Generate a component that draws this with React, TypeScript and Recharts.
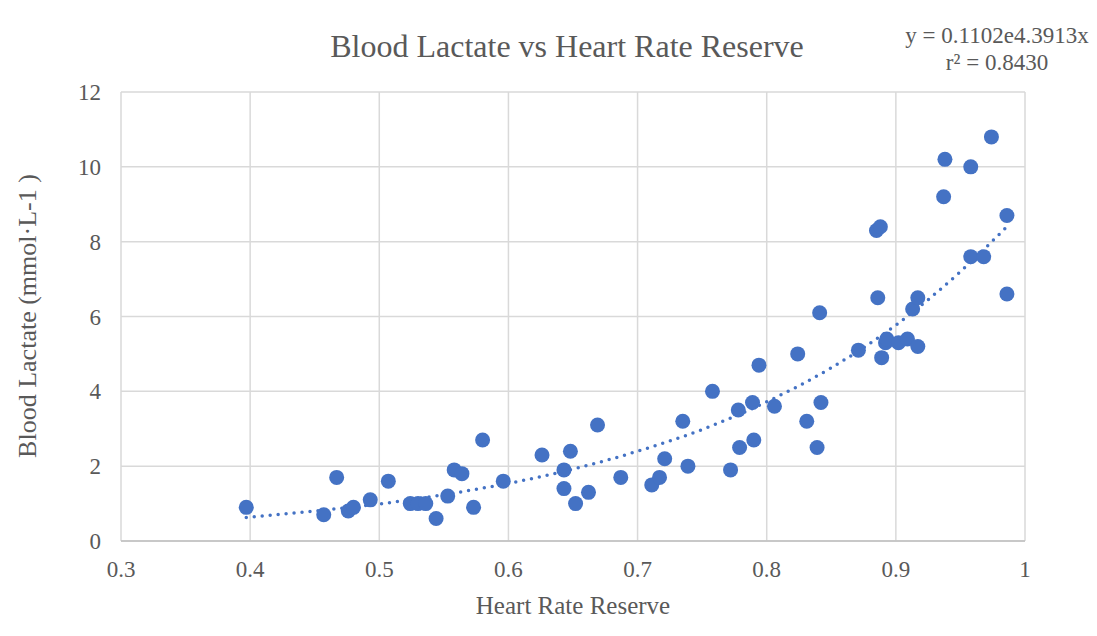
import React from 'react';
import { ComposedChart, Scatter, Line, XAxis, YAxis, CartesianGrid } from 'recharts';

// heart rate reserve (fraction) vs blood lactate (mmol/L)
const hrr = [
  0.397, 0.457, 0.467, 0.476, 0.48, 0.493, 0.507, 0.524, 0.53, 0.536,
  0.544, 0.553, 0.558, 0.564, 0.573, 0.58, 0.596, 0.626, 0.643, 0.643,
  0.648, 0.652, 0.662, 0.669, 0.687, 0.711, 0.717, 0.721, 0.735, 0.739,
  0.758, 0.772, 0.778, 0.779, 0.789, 0.79, 0.794, 0.806, 0.824, 0.831,
  0.839, 0.841, 0.842, 0.871, 0.885, 0.886, 0.888, 0.889, 0.892, 0.893,
  0.902, 0.909, 0.913, 0.917, 0.917, 0.937, 0.938, 0.958, 0.958, 0.968,
  0.974, 0.986, 0.986,
];
const lactate = [
  0.9, 0.7, 1.7, 0.8, 0.9, 1.1, 1.6, 1.0, 1.0, 1.0,
  0.6, 1.2, 1.9, 1.8, 0.9, 2.7, 1.6, 2.3, 1.9, 1.4,
  2.4, 1.0, 1.3, 3.1, 1.7, 1.5, 1.7, 2.2, 3.2, 2.0,
  4.0, 1.9, 3.5, 2.5, 3.7, 2.7, 4.7, 3.6, 5.0, 3.2,
  2.5, 6.1, 3.7, 5.1, 8.3, 6.5, 8.4, 4.9, 5.3, 5.4,
  5.3, 5.4, 6.2, 6.5, 5.2, 9.2, 10.2, 10.0, 7.6, 7.6,
  10.8, 8.7, 6.6,
];

// exponential trendline as it appears on the chart
const trendX = [0.397, 0.45, 0.5, 0.55, 0.6, 0.65, 0.7, 0.75, 0.8, 0.85, 0.9, 0.95, 0.986];
const trendY = [0.63, 0.8, 0.99, 1.24, 1.54, 1.92, 2.4, 2.98, 3.72, 4.63, 5.77, 7.2, 8.4];

const xTicks = [0.3, 0.4, 0.5, 0.6, 0.7, 0.8, 0.9, 1];
const yTicks = [0, 2, 4, 6, 8, 10, 12];

const points = hrr.map((x, i) => ({ x, y: lactate[i] }));
const trend = trendX.map((x, i) => ({ x, y: trendY[i] }));

const FONT = '"Liberation Serif", "Times New Roman", serif';
const TEXT = '#595959';
const BLUE = '#4472C4';

export default function App() {
  const tick = { fill: TEXT, fontSize: 23, fontFamily: FONT };
  return (
    <div style={{ position: 'relative', width: 1097, height: 636, margin: -8, overflow: 'hidden', background: '#fff' }}>
      <div style={{ position: 'absolute', left: 4, top: 6, width: 1200, height: 700, border: '1px solid #d9d9d9' }} />
      <ComposedChart
        width={1097}
        height={636}
        margin={{ top: 92, right: 72, bottom: 65, left: 0 }}
        style={{ position: 'absolute', left: 0, top: 0 }}
      >
        <CartesianGrid stroke="#d9d9d9" strokeWidth={1.5} />
        <XAxis
          type="number"
          dataKey="x"
          domain={[0.3, 1]}
          ticks={xTicks}
          tickFormatter={(v) => String(v)}
          tick={tick}
          tickLine={false}
          tickSize={0}
          tickMargin={20}
          height={30}
          stroke="#bfbfbf"
          strokeWidth={1.5}
          allowDataOverflow
        />
        <YAxis
          type="number"
          dataKey="y"
          domain={[0, 12]}
          ticks={yTicks}
          tick={tick}
          tickLine={false}
          axisLine={false}
          tickSize={0}
          tickMargin={20}
          width={121}
        />
        <Line
          data={trend}
          dataKey="y"
          type="monotone"
          stroke={BLUE}
          strokeWidth={3.5}
          strokeDasharray="0 8"
          strokeLinecap="round"
          dot={false}
          activeDot={false}
          isAnimationActive={false}
        />
        <Scatter
          data={points}
          fill={BLUE}
          shape={(p: any) => <circle cx={p.cx} cy={p.cy} r={7.5} fill={BLUE} />}
          isAnimationActive={false}
        />
      </ComposedChart>
      <div style={{ position: 'absolute', left: 0, width: 1134, top: 26, textAlign: 'center', fontFamily: FONT, fontSize: 32, color: TEXT, lineHeight: '40px' }}>
        Blood Lactate vs Heart Rate Reserve
      </div>
      <div style={{ position: 'absolute', left: 897, width: 200, top: 22, textAlign: 'center', fontFamily: FONT, fontSize: 23, color: TEXT, lineHeight: '27px' }}>
        y = 0.1102e4.3913x
        <br />
        r² = 0.8430
      </div>
      <div style={{ position: 'absolute', left: 121, width: 904, top: 590, textAlign: 'center', fontFamily: FONT, fontSize: 25, color: TEXT, lineHeight: '32px' }}>
        Heart Rate Reserve
      </div>
      <div
        style={{
          position: 'absolute', left: 28, top: 316, width: 400, marginLeft: -200, marginTop: -16,
          textAlign: 'center', fontFamily: FONT, fontSize: 26, color: TEXT, lineHeight: '32px',
          transform: 'rotate(-90deg)', whiteSpace: 'nowrap',
        }}
      >
        Blood Lactate (mmol·L-1 )
      </div>
    </div>
  );
}
